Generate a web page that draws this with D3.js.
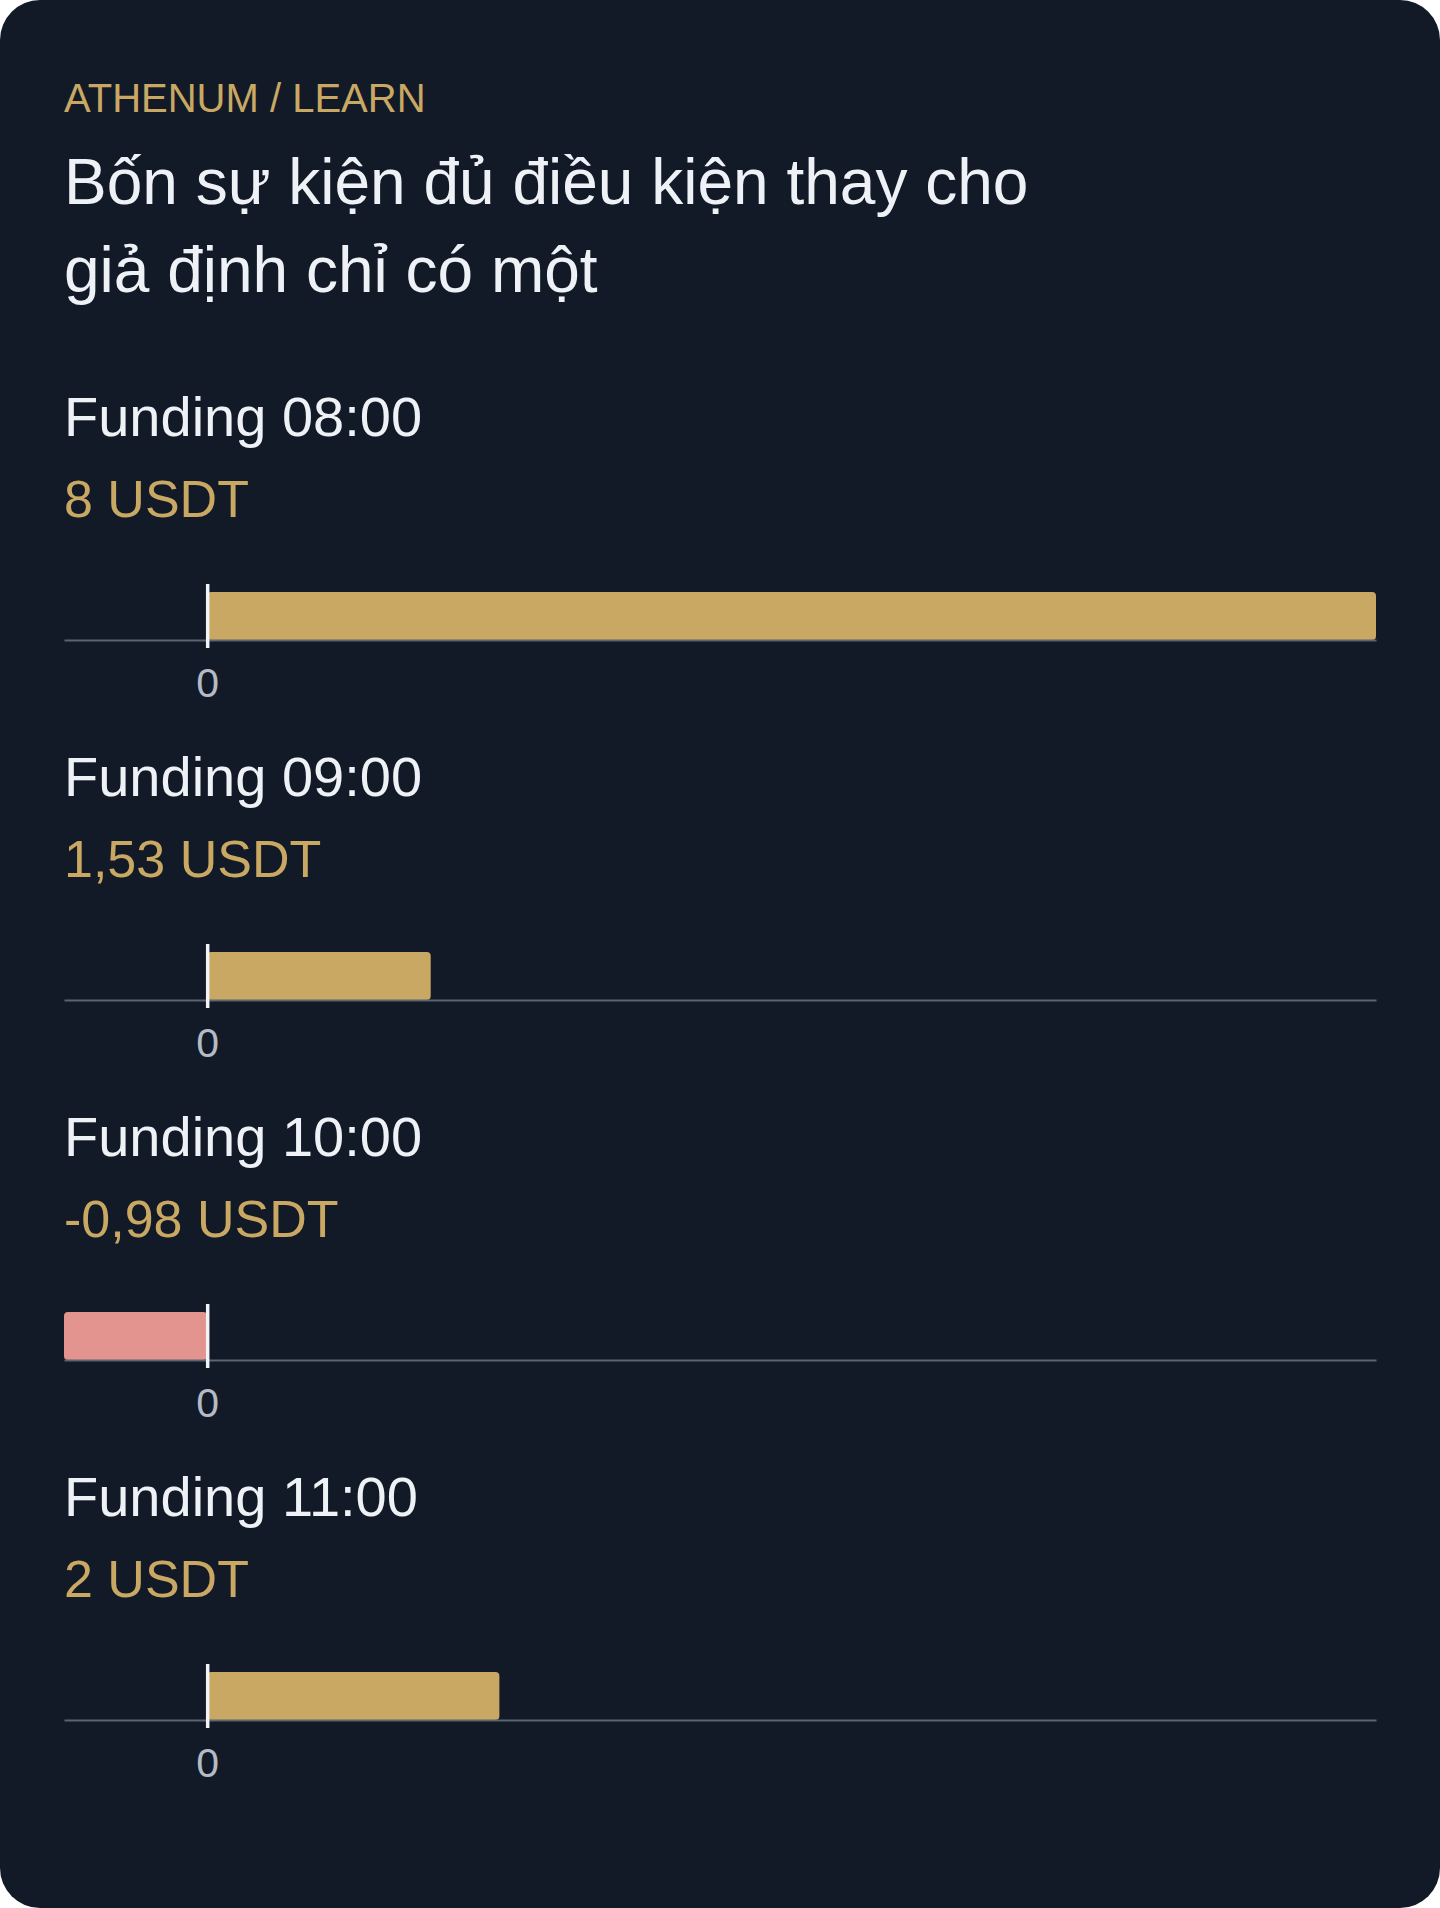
<!DOCTYPE html>
<html>
<head>
<meta charset="utf-8">
<script src="https://cdn.jsdelivr.net/npm/d3@7"></script>
<style>
  html, body { margin: 0; padding: 0; background: #ffffff; }
  svg { display: block; }
  text { font-family: "Liberation Sans", Arial, Helvetica, sans-serif; }
</style>
</head>
<body>
<div id="chart"></div>
<script>
// data
const eyebrow = "ATHENUM / LEARN"
const titleLines = ["Bốn sự kiện đủ điều kiện thay cho", "giả định chỉ có một"]
const events = ["Funding 08:00", "Funding 09:00", "Funding 10:00", "Funding 11:00"]
const amounts = [8, 1.53, -0.98, 2]
const unit = "USDT"
const tickValues = [0]

const W = 1440, H = 1908
const margin = { left: 64, right: 64 }
const rowStep = 360

const colors = {
    bg: "#131a27",
    gold: "#c9a863",
    neg: "#e4948e",
    text: "#eef1f6",
    axis: "#5b6472",
    tick: "#f1f3f7",
    tickLabel: "#b3bbc7"
}

// vi-VN style number: comma decimal, plain hyphen for minus
const fmt = v => {
    const s = Number.isInteger(v) ? String(v) : v.toFixed(2)
    return s.replace(".", ",") + " " + unit
}

const svg = d3.select("#chart").append("svg")
    .attr("width", W)
    .attr("height", H)

svg.append("rect")
    .attr("width", W)
    .attr("height", H)
    .attr("rx", 40)
    .attr("fill", colors.bg)

svg.append("text")
    .attr("x", margin.left)
    .attr("y", 112)
    .attr("fill", colors.gold)
    .attr("font-size", 40)
    .text(eyebrow)

svg.append("text")
    .attr("fill", colors.text)
    .attr("font-size", 64)
    .selectAll("tspan")
    .data(titleLines)
    .join("tspan")
    .attr("x", margin.left)
    .attr("y", (d, i) => 204 + i * 88)
    .text(d => d)

// shared scale so every zero lines up
const x = d3.scaleLinear()
    .domain([Math.min(0, d3.min(amounts)), Math.max(0, d3.max(amounts))])
    .range([margin.left, W - margin.right])

const rows = svg.selectAll("g.row")
    .data(events.map((name, i) => ({ name, value: amounts[i] })))
    .join("g")
    .attr("class", "row")
    .attr("transform", (d, i) => `translate(0,${i * rowStep})`)

rows.append("text")
    .attr("x", margin.left)
    .attr("y", 436)
    .attr("fill", colors.text)
    .attr("font-size", 56)
    .text(d => d.name)

rows.append("text")
    .attr("x", margin.left)
    .attr("y", 517)
    .attr("fill", colors.gold)
    .attr("font-size", 52)
    .text(d => fmt(d.value))

const barTop = 592, baseY = 640

rows.append("rect")
    .attr("x", d => x(Math.min(0, d.value)))
    .attr("y", barTop)
    .attr("width", d => Math.abs(x(d.value) - x(0)))
    .attr("height", baseY - barTop)
    .attr("rx", 4)
    .attr("fill", d => d.value < 0 ? colors.neg : colors.gold)

rows.append("g")
    .attr("class", "axis")
    .attr("transform", `translate(0,${baseY})`)
    .each(function () {
        const g = d3.select(this)
        g.call(d3.axisBottom(x).tickValues(tickValues).tickSizeOuter(0).tickFormat(d3.format("d")))
        g.select(".domain")
            .attr("stroke", colors.axis)
            .attr("stroke-width", 2)
        g.selectAll(".tick line")
            .attr("y1", -56)
            .attr("y2", 8)
            .attr("stroke", colors.tick)
            .attr("stroke-width", 3.5)
        g.selectAll(".tick text")
            .attr("y", 57)
            .attr("dy", 0)
            .attr("fill", colors.tickLabel)
            .attr("font-size", 41)
            .attr("font-family", "'Liberation Sans', Arial, Helvetica, sans-serif")
    })
</script>
</body>
</html>
